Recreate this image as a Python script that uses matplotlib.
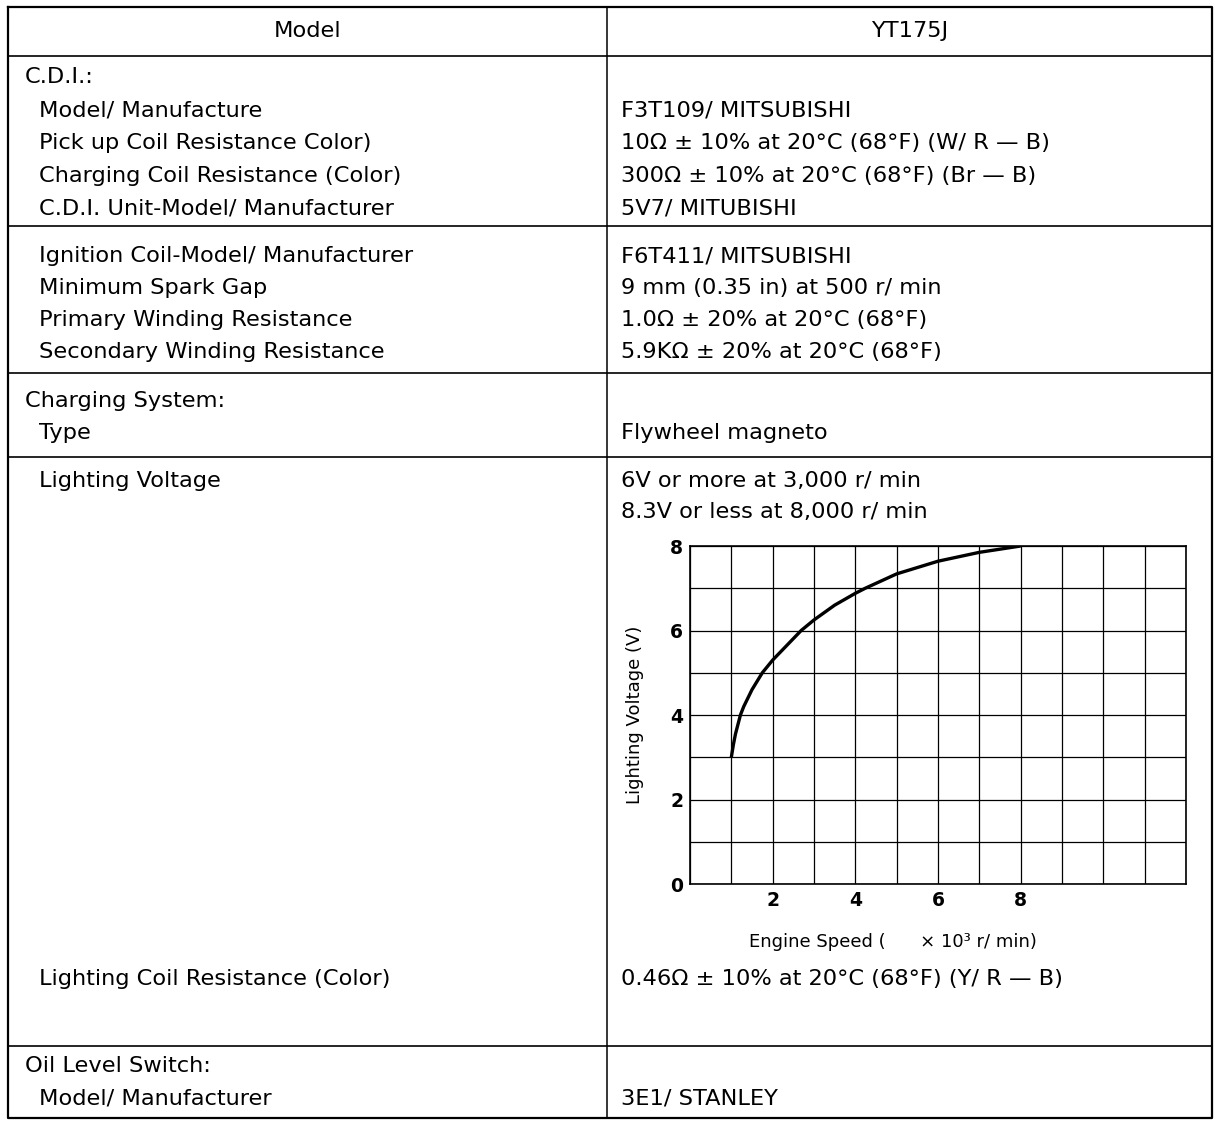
import matplotlib
matplotlib.use("Agg")
import matplotlib.pyplot as plt
from matplotlib.ticker import MultipleLocator

plt.rcParams['font.family'] = ['DejaVu Sans']

W, H, DPI = 1215, 1125, 100

# ---- table content ----
header_left = "Model"
header_right = "YT175J"

rows_y = [77, 110, 143, 176, 208,
          256, 288, 320, 352,
          401, 433,
          481, 512,
          979,
          1066, 1099]
rows_indent = [0, 1, 1, 1, 1,
               1, 1, 1, 1,
               0, 1,
               1, 1,
               1,
               0, 1]
rows_left = ["C.D.I.:", "Model/ Manufacture", "Pick up Coil Resistance Color)",
             "Charging Coil Resistance (Color)", "C.D.I. Unit-Model/ Manufacturer",
             "Ignition Coil-Model/ Manufacturer", "Minimum Spark Gap",
             "Primary Winding Resistance", "Secondary Winding Resistance",
             "Charging System:", "Type",
             "Lighting Voltage", "",
             "Lighting Coil Resistance (Color)",
             "Oil Level Switch:", "Model/ Manufacturer"]
rows_right = ["", "F3T109/ MITSUBISHI", "10Ω ± 10% at 20°C (68°F) (W/ R — B)",
              "300Ω ± 10% at 20°C (68°F) (Br — B)", "5V7/ MITUBISHI",
              "F6T411/ MITSUBISHI", "9 mm (0.35 in) at 500 r/ min",
              "1.0Ω ± 20% at 20°C (68°F)", "5.9KΩ ± 20% at 20°C (68°F)",
              "", "Flywheel magneto",
              "6V or more at 3,000 r/ min", "8.3V or less at 8,000 r/ min",
              "0.46Ω ± 10% at 20°C (68°F) (Y/ R — B)",
              "", "3E1/ STANLEY"]
separator_y = [56, 226, 373, 457, 1046]

# ---- chart data ----
engine_speed = [1.0, 1.05, 1.1, 1.22, 1.3, 1.5, 1.75, 2.0, 2.69, 3.0, 3.5,
                4.0, 4.24, 5.0, 6.0, 7.0, 8.0]
lighting_voltage = [3.0, 3.3, 3.55, 4.0, 4.2, 4.6, 5.0, 5.3, 6.0, 6.25, 6.6,
                    6.88, 7.0, 7.34, 7.64, 7.85, 8.0]
x_ticks = [2, 4, 6, 8]
y_ticks = [0, 2, 4, 6, 8]

fig = plt.figure(figsize=(W / DPI, H / DPI), dpi=DPI)
bg = fig.add_axes([0, 0, 1, 1])
bg.set_xlim(0, W)
bg.set_ylim(H, 0)
bg.axis('off')

L, R, T, B, MID = 8, 1212, 7, 1118, 607
bg.plot([L, R, R, L, L], [T, T, B, B, T], color='black', lw=1.6)
bg.plot([MID, MID], [T, B], color='black', lw=1.1)
for y in separator_y:
    bg.plot([L, R], [y, y], color='black', lw=1.2)

fs = 16.2
bg.text((L + MID) / 2, 31, header_left, ha='center', va='center', fontsize=fs)
bg.text((MID + R) / 2, 31, header_right, ha='center', va='center', fontsize=fs)
for y, ind, lt, rt in zip(rows_y, rows_indent, rows_left, rows_right):
    x = 25 if ind == 0 else 39
    if lt:
        bg.text(x, y, lt, ha='left', va='center', fontsize=fs)
    if rt:
        bg.text(621, y, rt, ha='left', va='center', fontsize=fs)

# ---- chart ----
ax_l, ax_r, ax_t, ax_b = 690, 1186, 546, 884
ax = fig.add_axes([ax_l / W, 1 - ax_b / H, (ax_r - ax_l) / W, (ax_b - ax_t) / H])
ax.set_xlim(0, 12)
ax.set_ylim(0, 8)
ax.xaxis.set_minor_locator(MultipleLocator(1))
ax.yaxis.set_minor_locator(MultipleLocator(1))
ax.set_xticks(x_ticks)
ax.set_yticks(y_ticks)
ax.grid(which='both', color='black', lw=0.9)
ax.tick_params(which='both', length=0, labelsize=13.5, pad=5)
for lab in ax.get_xticklabels() + ax.get_yticklabels():
    lab.set_fontweight('bold')
for s in ax.spines.values():
    s.set_linewidth(1.2)
ax.plot(engine_speed, lighting_voltage, color='black', lw=2.4,
        solid_capstyle='butt', solid_joinstyle='round', zorder=5)
ax.set_ylabel("Lighting Voltage (V)", fontsize=13)
ax.yaxis.set_label_coords(-0.093, 0.5)
ax.set_xlabel("Engine Speed (      × 10³ r/ min)", fontsize=13)
ax.xaxis.set_label_coords(0.41, -0.145)

fig.savefig("out.png", dpi=DPI)
